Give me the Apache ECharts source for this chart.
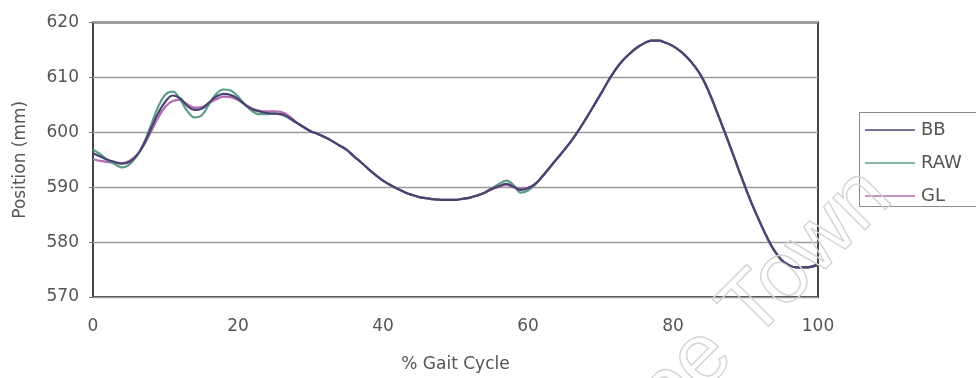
<!DOCTYPE html>
<html>
<head>
<meta charset="utf-8">
<title>Position vs % Gait Cycle</title>
<script src="https://cdn.jsdelivr.net/npm/echarts@6/dist/echarts.min.js"></script>
<style>
  html, body { margin: 0; padding: 0; background: #ffffff; }
  #chart { width: 976px; height: 378px; }
</style>
</head>
<body>
<div id="chart"></div>
<script>
// Percent of gait cycle (x positions of the samples)
const gaitCycle = [
  0, 1, 2, 3, 4, 5, 6, 7, 8, 9, 10, 11, 12, 13, 14, 15, 16, 17, 18, 19, 20,
  21, 22, 23, 24, 25, 26, 27, 28, 29, 30, 31, 32, 33, 34, 35, 36, 37, 38, 39, 40,
  41, 42, 43, 44, 45, 46, 47, 48, 49, 50, 51, 52, 53, 54, 55, 56, 57, 58, 59, 60,
  61, 62, 63, 64, 65, 66, 67, 68, 69, 70, 71, 72, 73, 74, 75, 76, 77, 78, 79, 80,
  81, 82, 83, 84, 85, 86, 87, 88, 89, 90, 91, 92, 93, 94, 95, 96, 97, 98, 99, 100
];

// Marker position (mm) for each processing method
const bbValues = [
  596.2, 595.6, 595.0, 594.6, 594.3, 594.6, 595.7, 597.8, 600.7, 603.5, 605.6,
  606.7, 606.2, 604.8, 604.1, 604.3, 605.4, 606.5, 607.0, 606.8, 606.1,
  605.0, 604.2, 603.8, 603.5, 603.4, 603.3, 602.7, 601.8, 601.0, 600.2,
  599.7, 599.1, 598.4, 597.6, 596.8, 595.6, 594.5, 593.3, 592.2, 591.2,
  590.4, 589.7, 589.1, 588.6, 588.2, 588.0, 587.8, 587.7, 587.7, 587.7,
  587.9, 588.1, 588.5, 589.0, 589.7, 590.2, 590.6, 590.1, 589.5, 589.8,
  590.6, 592.0, 593.6, 595.2, 596.8, 598.5, 600.4, 602.5, 604.7, 606.9,
  609.2, 611.3, 613.0, 614.3, 615.4, 616.2, 616.7, 616.7, 616.3, 615.7,
  614.8, 613.6, 612.0, 610.0, 607.2, 603.9, 600.5, 597.0, 593.4, 589.9,
  586.6, 583.6, 580.8, 578.4, 576.7, 575.8, 575.4, 575.4, 575.5, 575.9
];

const rawValues = [
  596.9, 596.0, 595.0, 594.2, 593.6, 594.1, 595.6, 598.0, 601.3, 604.7, 606.9,
  607.4, 606.0, 603.9, 602.7, 603.1, 605.1, 607.0, 607.8, 607.6, 606.5,
  605.0, 603.8, 603.3, 603.3, 603.4, 603.2, 602.6, 601.8, 601.0, 600.2,
  599.7, 599.1, 598.4, 597.6, 596.8, 595.6, 594.5, 593.3, 592.2, 591.2,
  590.4, 589.7, 589.1, 588.6, 588.2, 588.0, 587.8, 587.7, 587.7, 587.7,
  587.9, 588.1, 588.5, 589.0, 589.8, 590.6, 591.2, 590.4, 589.0, 589.4,
  590.5, 592.0, 593.6, 595.2, 596.8, 598.5, 600.4, 602.5, 604.7, 606.9,
  609.2, 611.3, 613.0, 614.3, 615.4, 616.2, 616.7, 616.7, 616.3, 615.7,
  614.8, 613.6, 612.0, 610.0, 607.2, 603.9, 600.5, 597.0, 593.4, 589.9,
  586.6, 583.6, 580.8, 578.4, 576.7, 575.8, 575.4, 575.4, 575.5, 575.9
];

const glValues = [
  595.1, 594.8, 594.6, 594.4, 594.4, 594.8, 595.8, 597.6, 600.1, 602.7, 604.7,
  605.7, 605.9, 605.1, 604.5, 604.6, 605.3, 606.0, 606.5, 606.4, 605.9,
  605.0, 604.3, 603.9, 603.8, 603.8, 603.7, 603.0, 601.9, 601.0, 600.2,
  599.7, 599.1, 598.4, 597.6, 596.8, 595.6, 594.5, 593.3, 592.2, 591.2,
  590.4, 589.7, 589.1, 588.6, 588.2, 588.0, 587.8, 587.7, 587.7, 587.7,
  587.9, 588.1, 588.5, 589.0, 589.6, 590.1, 590.4, 590.0, 589.7, 589.9,
  590.6, 592.0, 593.6, 595.2, 596.8, 598.5, 600.4, 602.5, 604.7, 606.9,
  609.2, 611.3, 613.0, 614.3, 615.4, 616.2, 616.7, 616.7, 616.3, 615.7,
  614.8, 613.6, 612.0, 610.0, 607.2, 603.9, 600.5, 597.0, 593.4, 589.9,
  586.6, 583.6, 580.8, 578.4, 576.7, 575.8, 575.4, 575.4, 575.5, 575.9
];

const seriesNames = ['BB', 'RAW', 'GL'];
const seriesColors = { BB: '#4a4272', RAW: '#5c9e88', GL: '#b46cb0' };
const xTicks = { min: 0, max: 100, step: 20 };
const yTicks = { min: 570, max: 620, step: 10 };

const FONT = '"DejaVu Sans", sans-serif';
const TEXT_COLOR = '#555555';

function pairs(values) {
  return gaitCycle.map((x, i) => [x, values[i]]);
}

function lineSeries(name, values, z) {
  return {
    name: name,
    type: 'line',
    data: pairs(values),
    showSymbol: false,
    smooth: 0.4,
    z: z,
    itemStyle: { color: seriesColors[name] },
    lineStyle: { width: 2.2, color: seriesColors[name] }
  };
}

const chart = echarts.init(document.getElementById('chart'), null, { renderer: 'canvas' });

chart.setOption({
  animation: false,
  backgroundColor: '#ffffff',
  grid: {
    left: 93, top: 22.5, right: 158, bottom: 78,
    show: true,
    backgroundColor: '#ffffff',
    borderColor: '#444444',
    borderWidth: 2
  },
  xAxis: {
    type: 'value',
    min: xTicks.min, max: xTicks.max, interval: xTicks.step,
    name: '% Gait Cycle',
    nameLocation: 'middle',
    nameGap: 59,
    nameTextStyle: { fontFamily: FONT, fontSize: 17, color: TEXT_COLOR },
    axisLine: { show: false },
    axisTick: { show: false },
    splitLine: { show: false },
    axisLabel: { margin: 21, fontFamily: FONT, fontSize: 17, color: TEXT_COLOR }
  },
  yAxis: {
    type: 'value',
    min: yTicks.min, max: yTicks.max, interval: yTicks.step,
    name: 'Position (mm)',
    nameLocation: 'middle',
    nameGap: 64,
    nameTextStyle: { fontFamily: FONT, fontSize: 17, color: TEXT_COLOR },
    axisLine: { show: false },
    axisTick: { show: true, length: 4, lineStyle: { color: '#777', width: 1 } },
    splitLine: { show: true, lineStyle: { color: '#9a9a9a', width: 1.3 } },
    axisLabel: { margin: 14, fontFamily: FONT, fontSize: 17, color: TEXT_COLOR }
  },
  legend: {
    orient: 'vertical',
    left: 859,
    top: 112,
    padding: [9, 6, 3, 6],
    itemGap: 15,
    itemWidth: 50,
    itemHeight: 1.6,
    icon: 'rect',
    textStyle: { fontFamily: FONT, fontSize: 18, color: TEXT_COLOR, padding: [0, 0, 0, 1] },
    data: seriesNames
  },
  // GL drawn first, BB on top
  series: [
    lineSeries('GL', glValues, 2),
    lineSeries('RAW', rawValues, 3),
    lineSeries('BB', bbValues, 4)
  ],
  graphic: [
    {
      // legend frame, running off the right edge of the page
      type: 'rect',
      z: 0,
      silent: true,
      shape: { x: 859.5, y: 112.5, width: 160, height: 94 },
      style: { fill: '#ffffff', stroke: '#8a8a8a', lineWidth: 1 }
    },
    {
      // faint outlined watermark running diagonally across the lower right
      type: 'text',
      x: 604,
      y: 518,
      rotation: Math.PI / 4,
      z: 100,
      silent: true,
      style: {
        text: 'Cape Town',
        font: '86px "Liberation Sans", Arial, sans-serif',
        fill: 'rgba(0,0,0,0)',
        stroke: '#d4d4d4',
        lineWidth: 1.4,
        textAlign: 'left',
        textVerticalAlign: 'bottom'
      }
    }
  ]
});
</script>
</body>
</html>
